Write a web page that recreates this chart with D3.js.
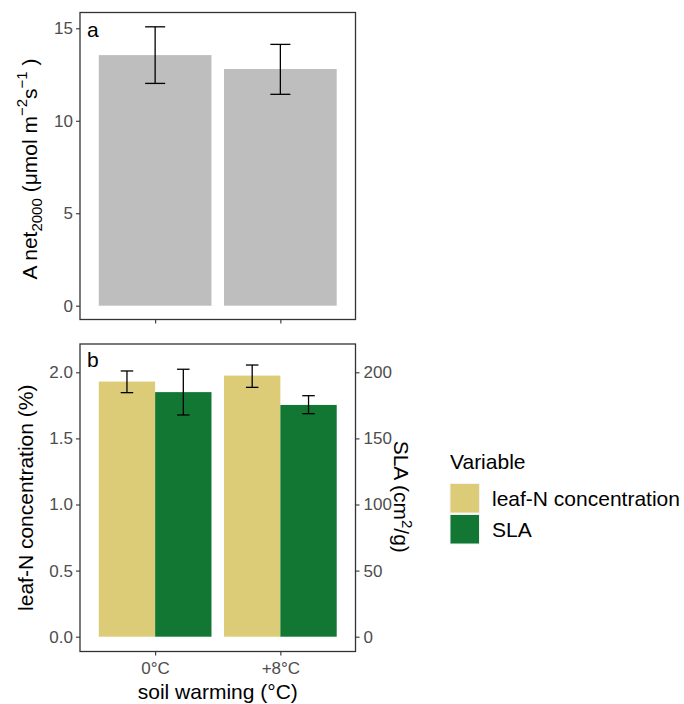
<!DOCTYPE html>
<html>
<head>
<meta charset="utf-8">
<script src="https://cdn.jsdelivr.net/npm/d3@7"></script>
<style>
  html, body { margin: 0; padding: 0; background: #fff; }
  svg { display: block; font-family: "Liberation Sans", Arial, sans-serif; }
</style>
</head>
<body>
<svg id="chart" width="684" height="704"></svg>
<script>
// Soil warming treatments
const treatments = ["0°C", "+8°C"];

// Panel a: net assimilation rate (mean, lower, upper)
const anetMean = [13.55, 12.8];
const anetLow  = [12.02, 11.43];
const anetHigh = [15.08, 14.13];
const anetTicks = [0, 5, 10, 15];

// Panel b: leaf-N concentration (%) and SLA (cm²/g)
const variables = ["leaf-N concentration", "SLA"];
const leafNMean = [1.93, 1.975];
const leafNLow  = [1.846, 1.886];
const leafNHigh = [2.01, 2.055];
const slaMean = [185, 175.3];
const slaLow  = [167.7, 168.7];
const slaHigh = [202.3, 182.3];
const leafNTicks = [0, 0.5, 1, 1.5, 2];
const slaTicks = [0, 50, 100, 150, 200];
const slaFactor = 100; // secondary axis: SLA = leaf-N scale × 100

const colors = { "leaf-N concentration": "#DDCC77", "SLA": "#117733" };

const svg = d3.select("#chart");
const tickColor = "#333333";
const labelColor = "#4D4D4D";
const baseFont = 21, tickFont = 17;

const left = 80, right = 355.5;
const panelA = { top: 12.5, bottom: 319.5 };
const panelB = { top: 344, bottom: 651.5 };

const x = d3.scalePoint().domain(treatments).range([left, right]).padding(0.6);
const step = x.step();

const yA = d3.scaleLinear().domain([-0.746, 15.854]).range([panelA.bottom, panelA.top]);
const yB = d3.scaleLinear().domain([-0.112, 2.214]).range([panelB.bottom, panelB.top]);
const ySLA = d3.scaleLinear().domain(yB.domain().map(v => v * slaFactor)).range(yB.range());

function styleAxis(g, color) {
  g.select(".domain").remove();
  g.selectAll(".tick line").attr("stroke", tickColor).attr("stroke-width", 1.1);
  g.selectAll(".tick text").attr("fill", labelColor).attr("font-size", tickFont)
    .attr("font-family", "Liberation Sans, Arial, sans-serif");
}

function errorBars(g, xs, lows, highs, yScale, halfW) {
  const eb = g.append("g").attr("stroke", "#000").attr("stroke-width", 1.3).attr("fill", "none");
  xs.forEach((cx, i) => {
    const y1 = yScale(lows[i]), y2 = yScale(highs[i]);
    eb.append("line").attr("x1", cx).attr("x2", cx).attr("y1", y1).attr("y2", y2);
    eb.append("line").attr("x1", cx - halfW).attr("x2", cx + halfW).attr("y1", y1).attr("y2", y1);
    eb.append("line").attr("x1", cx - halfW).attr("x2", cx + halfW).attr("y1", y2).attr("y2", y2);
  });
}

// ---------- Panel a ----------
const gA = svg.append("g");
const barW = step * 0.9;
gA.selectAll("rect.bar").data(treatments).join("rect")
  .attr("class", "bar")
  .attr("x", d => x(d) - barW / 2)
  .attr("width", barW)
  .attr("y", (d, i) => yA(anetMean[i]))
  .attr("height", (d, i) => yA(0) - yA(anetMean[i]))
  .attr("fill", "#BEBEBE");
errorBars(gA, treatments.map(d => x(d)), anetLow, anetHigh, yA, step * 0.08);

gA.append("rect").attr("x", left).attr("y", panelA.top)
  .attr("width", right - left).attr("height", panelA.bottom - panelA.top)
  .attr("fill", "none").attr("stroke", tickColor).attr("stroke-width", 1.3);

gA.append("g").attr("transform", `translate(${left},0)`)
  .call(d3.axisLeft(yA).tickValues(anetTicks).tickSize(4).tickPadding(3).tickFormat(d3.format("d")))
  .call(g => styleAxis(g));
gA.append("g").attr("transform", `translate(0,${panelA.bottom})`)
  .call(d3.axisBottom(x).tickSize(4).tickFormat(""))
  .call(g => styleAxis(g));

gA.append("text").attr("x", 87).attr("y", 37).attr("font-size", baseFont).attr("fill", "#000").text("a");

// y title with subscript and superscripts
const titleA = gA.append("text")
  .attr("transform", `translate(36.5,${(panelA.top + panelA.bottom) / 2 + 3}) rotate(-90)`)
  .attr("text-anchor", "middle").attr("font-size", baseFont).attr("fill", "#000");
titleA.append("tspan").text("A net");
titleA.append("tspan").attr("font-size", 15).attr("dy", 5).text("2000");
titleA.append("tspan").attr("dy", -5).text(" (μmol m");
titleA.append("tspan").attr("font-size", 15).attr("dy", -10).text("−2");
titleA.append("tspan").attr("dy", 10).text("s");
titleA.append("tspan").attr("font-size", 15).attr("dy", -10).text("−1");
titleA.append("tspan").attr("dy", 10).text(" )");

// ---------- Panel b ----------
const gB = svg.append("g");
const sub = d3.scaleBand().domain(variables).range([-barW / 2, barW / 2]);
const subW = sub.bandwidth();

treatments.forEach((t, i) => {
  gB.append("rect").attr("x", x(t) + sub("leaf-N concentration")).attr("width", subW)
    .attr("y", yB(leafNMean[i])).attr("height", yB(0) - yB(leafNMean[i]))
    .attr("fill", colors["leaf-N concentration"]);
  gB.append("rect").attr("x", x(t) + sub("SLA")).attr("width", subW)
    .attr("y", ySLA(slaMean[i])).attr("height", ySLA(0) - ySLA(slaMean[i]))
    .attr("fill", colors["SLA"]);
});
errorBars(gB, treatments.map(t => x(t) + sub("leaf-N concentration") + subW / 2), leafNLow, leafNHigh, yB, step * 0.05);
errorBars(gB, treatments.map(t => x(t) + sub("SLA") + subW / 2), slaLow, slaHigh, ySLA, step * 0.05);

gB.append("rect").attr("x", left).attr("y", panelB.top)
  .attr("width", right - left).attr("height", panelB.bottom - panelB.top)
  .attr("fill", "none").attr("stroke", tickColor).attr("stroke-width", 1.3);

gB.append("g").attr("transform", `translate(${left},0)`)
  .call(d3.axisLeft(yB).tickValues(leafNTicks).tickSize(4).tickPadding(3).tickFormat(d3.format(".1f")))
  .call(g => styleAxis(g));
gB.append("g").attr("transform", `translate(${right},0)`)
  .call(d3.axisRight(ySLA).tickValues(slaTicks).tickSize(4).tickPadding(4).tickFormat(d3.format("d")))
  .call(g => styleAxis(g));
gB.append("g").attr("transform", `translate(0,${panelB.bottom})`)
  .call(d3.axisBottom(x).tickSize(4).tickPadding(6))
  .call(g => styleAxis(g));

gB.append("text").attr("x", 87).attr("y", 367).attr("font-size", baseFont).attr("fill", "#000").text("b");

const midB = (panelB.top + panelB.bottom) / 2;
gB.append("text")
  .attr("transform", `translate(33,${midB}) rotate(-90)`)
  .attr("text-anchor", "middle").attr("font-size", baseFont).attr("fill", "#000")
  .text("leaf-N concentration (%)");

const titleR = gB.append("text")
  .attr("transform", `translate(393.5,${midB - 1}) rotate(90)`)
  .attr("text-anchor", "middle").attr("font-size", baseFont).attr("fill", "#000");
titleR.append("tspan").text("SLA (cm");
titleR.append("tspan").attr("font-size", 15).attr("dy", -8).text("2");
titleR.append("tspan").attr("dy", 8).text("/g)");

svg.append("text").attr("x", (left + right) / 2).attr("y", 699)
  .attr("text-anchor", "middle").attr("font-size", baseFont).attr("fill", "#000")
  .text("soil warming (°C)");

// ---------- Legend ----------
const lg = svg.append("g").attr("transform", "translate(450,0)");
lg.append("text").attr("x", 0).attr("y", 469).attr("font-size", baseFont).attr("fill", "#000").text("Variable");
variables.forEach((v, i) => {
  const y0 = 483.5 + i * 31;
  lg.append("rect").attr("x", 0).attr("y", y0).attr("width", 29.5).attr("height", 29.5)
    .attr("fill", colors[v]).attr("stroke", "#F2F2F2").attr("stroke-width", 1);
  lg.append("text").attr("x", 42).attr("y", y0 + 14.75 + 7.5)
    .attr("font-size", baseFont).attr("fill", "#000").text(v);
});
</script>
</body>
</html>
